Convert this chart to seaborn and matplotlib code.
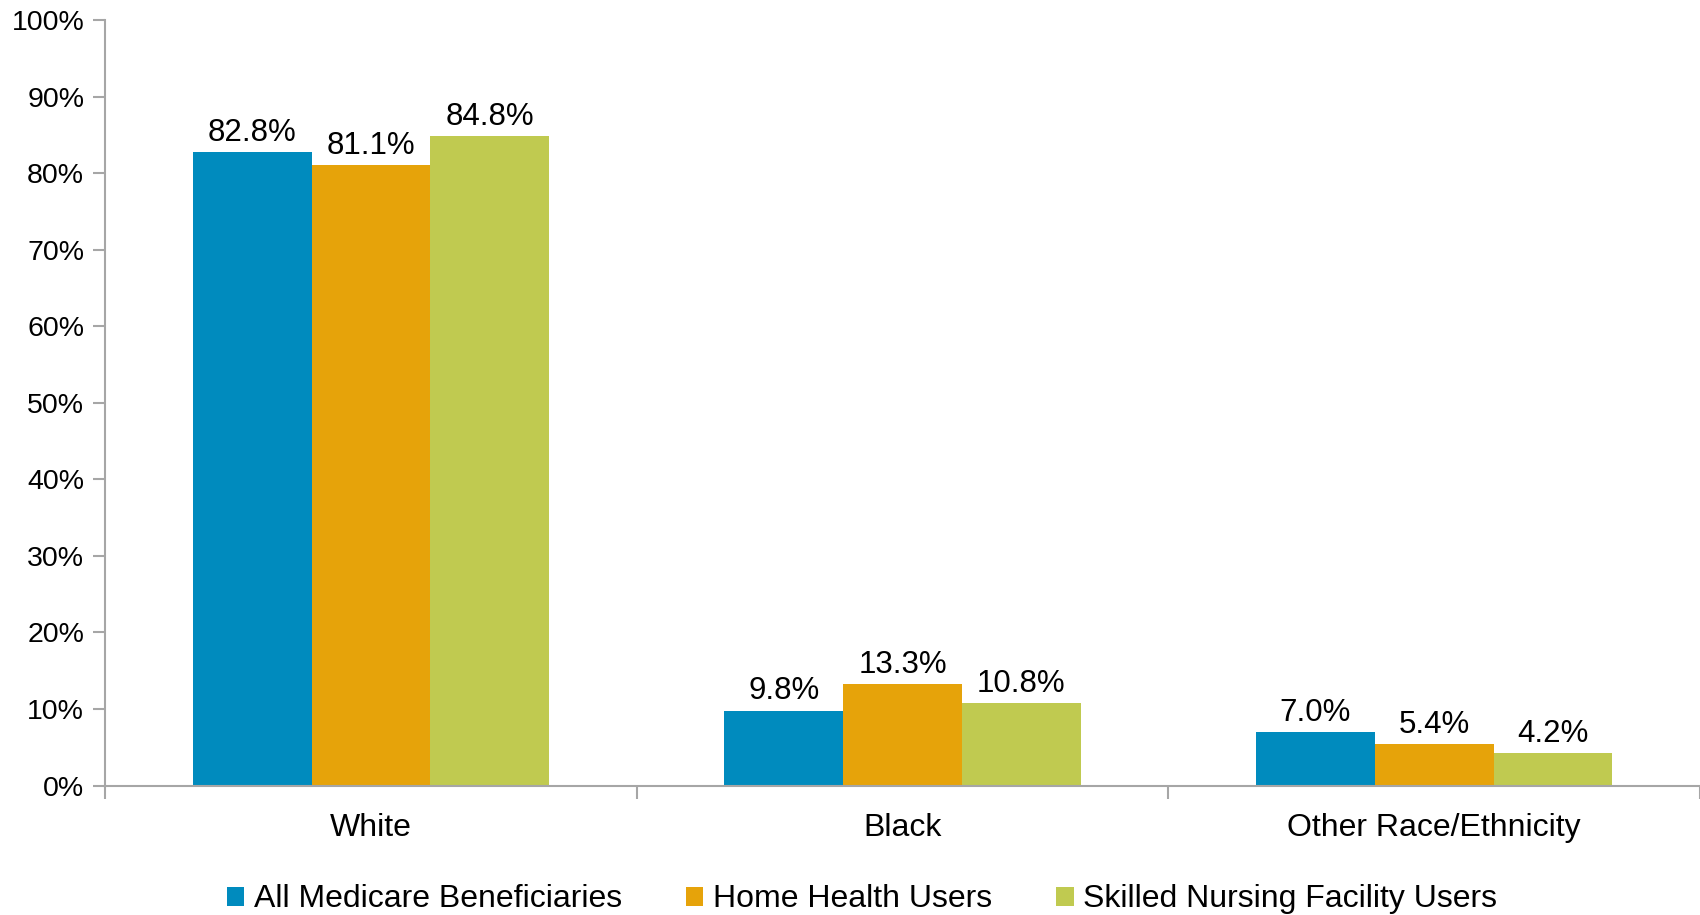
import matplotlib
matplotlib.use("Agg")
import matplotlib.pyplot as plt
import seaborn as sns
import pandas as pd

categories = ["White", "Black", "Other Race/Ethnicity"]
series_names = ["All Medicare Beneficiaries", "Home Health Users", "Skilled Nursing Facility Users"]
all_medicare = [82.8, 9.8, 7.0]
home_health = [81.1, 13.3, 5.4]
snf_users = [84.8, 10.8, 4.2]
colors = ["#008BBE", "#E6A30A", "#C0CA50"]
yticks = [0, 10, 20, 30, 40, 50, 60, 70, 80, 90, 100]

rows = []
for name, vals in zip(series_names, [all_medicare, home_health, snf_users]):
    for c, v in zip(categories, vals):
        rows.append({"category": c, "series": name, "value": v})
df = pd.DataFrame(rows)

sns.set_theme(style="white")
plt.rcParams["font.family"] = ["Liberation Sans", "DejaVu Sans"]
plt.rcParams["text.color"] = "black"
plt.rcParams["xtick.color"] = "black"
plt.rcParams["ytick.color"] = "black"

fig = plt.figure(figsize=(17, 9.15), dpi=100)
ax = fig.add_axes([0.0618, 0.1415, 0.9382, 0.8365])

sns.barplot(data=df, x="category", y="value", hue="series", order=categories,
            hue_order=series_names, palette=colors, width=0.67, gap=0,
            saturation=1, ax=ax, edgecolor="none", linewidth=0)

for cont in ax.containers:
    labels = [f"{v:.1f}%" for v in cont.datavalues]
    ax.bar_label(cont, labels=labels, padding=3, fontsize=22.5, color="black")

ax.set_ylim(0, 100)
ax.set_xlim(-0.5, 2.5)
ax.set_yticks(yticks)
ax.set_yticklabels([f"{t}%" for t in yticks], fontsize=20.5)
ax.tick_params(axis="y", which="major", length=9, width=1.5, color="#A6A6A6",
               labelcolor="black", pad=6, left=True)
ax.tick_params(axis="x", which="major", length=0, labelsize=23, labelcolor="black", pad=20)
ax.set_xticks([-0.5, 0.5, 1.5, 2.5], minor=True)
ax.tick_params(axis="x", which="minor", length=9, width=1.5, color="#A6A6A6", bottom=True, direction="out")
ax.set_xlabel("")
ax.set_ylabel("")

for s in ["top", "right"]:
    ax.spines[s].set_visible(False)
for s in ["left", "bottom"]:
    ax.spines[s].set_color("#A6A6A6")
    ax.spines[s].set_linewidth(1.5)

handles, lbls = ax.get_legend_handles_labels()
if ax.legend_:
    ax.legend_.remove()
leg = fig.legend(handles, lbls, loc="center", bbox_to_anchor=(0.507, 0.017), ncol=3,
                 frameon=False, fontsize=23, handlelength=0.55, handleheight=0.55,
                 handletextpad=0.3, columnspacing=2.0)
for t in leg.get_texts():
    t.set_color("black")

fig.savefig("out.png", dpi=100)
